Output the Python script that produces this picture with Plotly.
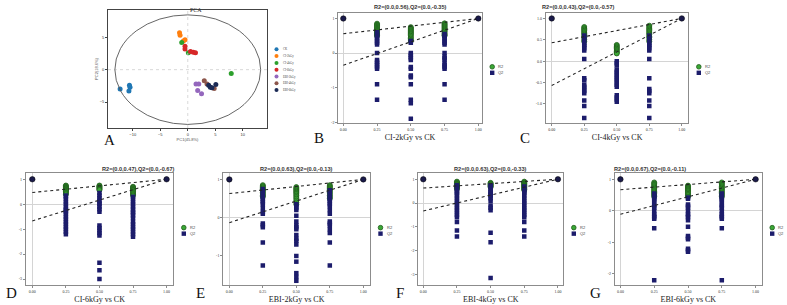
import plotly.graph_objects as go

W, H = 787, 305

# ---------------- PCA data ----------------
groups = ["CK", "CI-2kGy", "CI-4kGy", "CI-6kGy", "EBI-2kGy", "EBI-4kGy", "EBI-6kGy"]
group_colors = ["#1f77b4", "#ff7f0e", "#2ca02c", "#d62728", "#9467bd", "#8c564b", "#1b2a55"]
pc1 = [
    [-12.3, -10.6, -10.5, -10.7],
    [-1.5, -1.4, -0.5, -0.8],
    [-1.1, 0.1, 7.9],
    [-0.5, -0.5, 0.5, 1.0, 1.4],
    [1.5, 2.0, 1.8, 2.5],
    [3.0, 3.5, 4.8],
    [3.8, 4.1, 4.4, 5.1],
]
pc2 = [
    [-3.0, -2.4, -2.7, -3.3],
    [5.7, 5.3, 4.6, 4.4],
    [4.2, 2.6, -0.6],
    [3.6, 3.2, 2.8, 2.7, 2.6],
    [-2.2, -2.2, -3.2, -3.7],
    [-1.7, -2.2, -2.9],
    [-2.4, -2.7, -2.8, -2.3],
]
ellipse_a, ellipse_b = 13.25, 8.45

# ---------------- permutation-test data ----------------
perm_x = [0.25, 0.5, 0.75]
panels = ["B", "C", "D", "E", "F", "G"]
titles = ["R2=(0.0,0.56),Q2=(0.0,-0.35)", "R2=(0.0,0.43),Q2=(0.0,-0.57)",
          "R2=(0.0,0.47),Q2=(0.0,-0.67)", "R2=(0.0,0.63),Q2=(0.0,-0.13)",
          "R2=(0.0,0.63),Q2=(0.0,-0.33)", "R2=(0.0,0.67),Q2=(0.0,-0.11)"]
xtitles = ["CI-2kGy vs CK", "CI-4kGy vs CK", "CI-6kGy vs CK",
           "EBI-2kGy vs CK", "EBI-4kGy vs CK", "EBI-6kGy vs CK"]
r2_intercepts = [0.56, 0.43, 0.47, 0.63, 0.63, 0.67]
q2_intercepts = [-0.35, -0.57, -0.67, -0.13, -0.33, -0.11]
end_x = [0.0, 1.0]
end_y = [1.0, 1.0]

B_r2 = [[0.85, 0.82, 0.79, 0.76, 0.73, 0.70, 0.67, 0.64, 0.61, 0.58, 0.55, 0.52, 0.50],
        [0.75, 0.72, 0.69, 0.66, 0.63, 0.60, 0.57, 0.54, 0.50, 0.46, 0.42, 0.38, 0.35],
        [0.86, 0.83, 0.80, 0.77, 0.74, 0.71, 0.68, 0.65, 0.62, 0.58, 0.55, 0.52, 0.50]]
B_q2 = [[0.60, 0.55, 0.50, 0.45, 0.40, 0.35, 0.30, 0.25, 0.0, -0.2, -0.25, -0.3, -0.35, -0.4, -0.45, -0.9, -1.35],
        [0.35, 0.30, 0.0, -0.05, -0.1, -0.15, -0.2, -0.4, -0.45, -0.65, -0.7, -0.9, -1.35, -1.45, -1.9],
        [0.55, 0.50, 0.45, 0.40, 0.35, 0.30, 0.25, 0.0, -0.1, -0.15, -0.2, -0.3, -0.35, -0.4, -0.45, -0.9, -1.35]]
C_r2 = [[0.80, 0.77, 0.74, 0.71, 0.68, 0.65, 0.62, 0.58, 0.55, 0.50, 0.46],
        [0.38, 0.35, 0.32, 0.29, 0.26, 0.23, 0.20, 0.18],
        [0.83, 0.80, 0.77, 0.74, 0.71, 0.68, 0.65, 0.62, 0.58, 0.55, 0.50, 0.46]]
C_q2 = [[0.60, 0.55, 0.50, 0.42, 0.38, 0.35, 0.30, 0.25, 0.05, -0.4, -0.45, -0.55, -0.6, -0.65, -0.7, -0.75, -0.92, -1.05, -1.33],
        [0.0, -0.05, -0.1, -0.2, -0.25, -0.3, -0.35, -0.4, -0.45, -0.5, -0.55, -0.6, -0.8, -0.85, -0.9, -0.95],
        [0.60, 0.55, 0.50, 0.42, 0.38, 0.35, 0.30, 0.25, 0.05, -0.4, -0.65, -0.7, -0.75, -0.92, -1.05, -1.33]]
D_r2 = [[0.75, 0.72, 0.69, 0.66, 0.63, 0.60, 0.57, 0.54, 0.50, 0.45, 0.40],
        [0.75, 0.72, 0.69, 0.66, 0.63, 0.60, 0.57],
        [0.70, 0.67, 0.64, 0.61, 0.58, 0.55, 0.50, 0.45, 0.40, 0.35]]
D_q2 = [[0.35, 0.30, 0.20, 0.10, 0.0, -0.1, -0.2, -0.25, -0.3, -0.4, -0.5, -0.6, -0.7, -0.8, -0.9, -1.0, -1.1, -1.2],
        [0.45, 0.35, 0.25, 0.15, 0.05, 0.0, -0.1, -0.2, -0.3, -0.85, -0.95, -1.05, -1.15, -1.25, -2.35, -2.65, -3.0],
        [0.30, 0.20, 0.10, 0.0, -0.1, -0.2, -0.3, -0.35, -0.45, -0.55, -0.7, -0.8, -0.9, -1.0, -1.1, -1.2, -1.3]]
E_r2 = [[0.85, 0.82, 0.79, 0.76, 0.73, 0.70, 0.66, 0.62, 0.58, 0.55],
        [0.80, 0.77, 0.74, 0.71, 0.68, 0.65, 0.62, 0.58, 0.54, 0.50, 0.45, 0.40, 0.35],
        [0.85, 0.82, 0.79, 0.76, 0.73, 0.70, 0.66, 0.62, 0.58, 0.54, 0.50]]
E_q2 = [[0.75, 0.70, 0.65, 0.60, 0.55, 0.50, 0.45, 0.40, 0.35, 0.25, 0.15, 0.10, -0.15, -0.2, -0.25, -0.65, -1.25],
        [0.35, 0.30, 0.25, 0.20, 0.05, -0.1, -0.2, -0.25, -0.3, -0.45, -0.55, -0.6, -0.7, -1.0, -1.15, -1.45, -1.55, -1.65],
        [0.72, 0.68, 0.62, 0.55, 0.50, 0.45, 0.40, 0.35, 0.30, 0.20, 0.10, -0.1, -0.15, -0.2, -0.3, -0.4, -0.65, -1.25]]
F_r2 = [[0.90, 0.87, 0.84, 0.81, 0.78, 0.75, 0.72, 0.69, 0.66, 0.63, 0.60],
        [0.85, 0.82, 0.79, 0.76, 0.73, 0.70, 0.67],
        [0.90, 0.87, 0.84, 0.81, 0.78, 0.75, 0.72, 0.69, 0.66, 0.62, 0.58, 0.55]]
F_q2 = [[0.75, 0.70, 0.60, 0.50, 0.45, 0.40, 0.30, 0.20, 0.10, 0.0, -0.1, -0.2, -0.3, -0.4, -0.5, -0.6, -0.8, -1.15, -1.4],
        [0.75, 0.70, 0.60, 0.50, 0.45, 0.40, 0.35, 0.30, 0.20, 0.10, -0.1, -0.2, -0.3, -1.25, -1.65, -3.15],
        [0.70, 0.60, 0.50, 0.45, 0.40, 0.30, 0.20, 0.10, 0.0, -0.1, -0.2, -0.3, -0.4, -0.5, -0.6, -0.8, -1.15, -1.4]]
G_r2 = [[0.90, 0.86, 0.82, 0.78, 0.74, 0.70, 0.66, 0.62, 0.58, 0.54, 0.50, 0.45],
        [0.80, 0.77, 0.74, 0.71, 0.68, 0.65, 0.62, 0.58, 0.54, 0.50, 0.45],
        [0.90, 0.86, 0.82, 0.78, 0.74, 0.70, 0.66, 0.62, 0.58, 0.54, 0.50, 0.45]]
G_q2 = [[0.55, 0.50, 0.45, 0.40, 0.35, 0.30, 0.20, 0.15, 0.10, 0.0, -0.1, -0.15, -0.2, -0.25, -0.55, -2.2],
        [0.42, 0.38, 0.20, 0.15, 0.10, 0.0, -0.1, -0.15, -0.2, -0.3, -0.5, -0.8, -0.85, -0.9, -1.2, -1.25, -1.3],
        [0.55, 0.50, 0.45, 0.40, 0.35, 0.30, 0.20, 0.15, 0.10, 0.0, -0.1, -0.15, -0.2, -0.25, -0.55, -2.2]]
all_r2 = [B_r2, C_r2, D_r2, E_r2, F_r2, G_r2]
all_q2 = [B_q2, C_q2, D_q2, E_q2, F_q2, G_q2]

y_ticks = [[1, 0, -1, -2], [1.0, 0.5, 0.0, -0.5, -1.0], [1, 0, -1, -2, -3],
           [1, 0, -1], [1, 0, -1, -2, -3], [1, 0, -1, -2]]
y_ticktext = [["1", "0", "-1", "-2"], ["1.0", "0.5", "0.0", "-0.5", "-1.0"],
              ["1", "0", "-1", "-2", "-3"], ["1", "0", "-1"],
              ["1", "0", "-1", "-2", "-3"], ["1", "0", "-1", "-2"]]
x_ticks = [0, 0.25, 0.5, 0.75, 1.0]
x_ticktext = ["0.00", "0.25", "0.50", "0.75", "1.00"]

# ---------------- layout geometry (pixels) ----------------
boxes = {
    "A": (108, 267, 10, 128),
    "B": (338.3, 481.7, 13.3, 123.3),
    "C": (546, 688.3, 13.3, 123.3),
    "D": (26, 173.3, 173.3, 285),
    "E": (223.3, 370, 173.3, 285),
    "F": (418.3, 563.3, 173.3, 285),
    "G": (615, 761.7, 173.3, 285),
}
x_ranges = {"B": (-0.037, 1.025), "C": (-0.044, 1.05), "D": (-0.047, 1.05),
            "E": (-0.045, 1.05), "F": (-0.037, 1.04), "G": (-0.04, 1.045)}
y_ranges = {"B": (-2.03, 1.15), "C": (-1.455, 1.12), "D": (-3.24, 1.24),
            "E": (-1.76, 1.16), "F": (-3.44, 1.25), "G": (-2.35, 1.19)}
letters = {"A": (102, 140), "B": (312, 138), "C": (518, 138), "D": (4, 293),
           "E": (194, 293), "F": (394, 293), "G": (588, 293)}


def px_dom_x(l, r):
    return [l / W, r / W]


def px_dom_y(t, b):
    return [1 - b / H, 1 - t / H]


fig = go.Figure()
layout = dict(width=W, height=H, margin=dict(l=0, r=0, t=0, b=0, autoexpand=False),
              paper_bgcolor="white", plot_bgcolor="white", showlegend=False)
annotations, shapes = [], []

# ---------------- PCA panel ----------------
l, r, t, b = boxes["A"]
layout["xaxis"] = dict(domain=px_dom_x(l, r), range=[-14.5, 14.4], anchor="y", automargin=False,
                       tickvals=[-10, -5, 0, 5, 10], tickfont=dict(size=4, family="Liberation Sans", color="#333"),
                       showline=True, mirror=True, linecolor="#444", linewidth=1, ticks="outside", ticklen=2,
                       tickcolor="#444", showgrid=False, zeroline=False,
                       title=dict(text="PC1(45.8%)", font=dict(size=4, family="Liberation Sans", color="#555"), standoff=1))
layout["yaxis"] = dict(domain=px_dom_y(t, b), range=[-9.0, 9.2], anchor="x", automargin=False,
                       tickvals=[-5, 0, 5], tickfont=dict(size=4, family="Liberation Sans", color="#333"),
                       showline=True, mirror=True, linecolor="#444", linewidth=1, ticks="outside", ticklen=2,
                       tickcolor="#444", showgrid=False, zeroline=False,
                       title=dict(text="PC2(18.6%)", font=dict(size=4, family="Liberation Sans", color="#555"), standoff=1))
shapes.append(dict(type="line", xref="x", yref="y", x0=0, x1=0, y0=-9.0, y1=9.2,
                   line=dict(color="#cfcfcf", width=0.8, dash="dot")))
shapes.append(dict(type="line", xref="x", yref="y", x0=-14.5, x1=14.4, y0=0, y1=0,
                   line=dict(color="#cfcfcf", width=0.8, dash="dot")))
shapes.append(dict(type="circle", xref="x", yref="y", x0=-ellipse_a, x1=ellipse_a,
                   y0=-ellipse_b, y1=ellipse_b, line=dict(color="#555", width=0.9)))
for g, c, xs, ys in zip(groups, group_colors, pc1, pc2):
    fig.add_trace(go.Scatter(x=xs, y=ys, mode="markers", name=g, xaxis="x", yaxis="y",
                             marker=dict(color=c, size=5, line=dict(width=0))))
annotations.append(dict(text="PCA", x=(l + r) / 2 / W, y=1 - 5 / H, xref="paper", yref="paper",
                        showarrow=False, font=dict(size=6, family="Liberation Serif", color="#333")))
for i, (g, c) in enumerate(zip(groups, group_colors)):
    yy = 1 - (49.3 + i * 6.8) / H
    shapes.append(dict(type="circle", xref="paper", yref="paper", xsizemode="pixel", ysizemode="pixel",
                       xanchor=276.5 / W, yanchor=yy, x0=-2, x1=2, y0=-2, y1=2,
                       fillcolor=c, line=dict(width=0)))
    annotations.append(dict(text=g, x=281 / W, y=yy, xref="paper", yref="paper", xanchor="left",
                            yanchor="middle", showarrow=False,
                            font=dict(size=3, family="Liberation Serif", color="#444")))

# ---------------- permutation panels ----------------
green_fill, green_edge = "#3aa835", "#1f5a1a"
navy = "#1c1c6b"
for k, p in enumerate(panels):
    idx = k + 2
    xa, ya = f"x{idx}", f"y{idx}"
    l, r, t, b = boxes[p]
    layout[f"xaxis{idx}"] = dict(domain=px_dom_x(l, r), range=list(x_ranges[p]), anchor=ya, automargin=False,
                                 tickvals=x_ticks, ticktext=x_ticktext,
                                 tickfont=dict(size=4, family="Liberation Serif", color="#333"),
                                 showline=True, mirror=True, linecolor="#8c8c8c", linewidth=1.2,
                                 ticks="outside", ticklen=2, tickcolor="#8c8c8c", showgrid=False,
                                 zeroline=True, zerolinecolor="#d4d4d4", zerolinewidth=0.8,
                                 title=dict(text=xtitles[k], standoff=3,
                                            font=dict(size=8, family="Liberation Serif", color="#222")))
    layout[f"yaxis{idx}"] = dict(domain=px_dom_y(t, b), range=list(y_ranges[p]), anchor=xa, automargin=False,
                                 tickvals=y_ticks[k], ticktext=y_ticktext[k],
                                 tickfont=dict(size=4, family="Liberation Serif", color="#333"),
                                 showline=True, mirror=True, linecolor="#8c8c8c", linewidth=1.2,
                                 ticks="outside", ticklen=2, tickcolor="#8c8c8c", showgrid=False,
                                 zeroline=True, zerolinecolor="#d4d4d4", zerolinewidth=0.8)
    rx, ry, qx, qy = [], [], [], []
    for xv, rv, qv in zip(perm_x, all_r2[k], all_q2[k]):
        rx += [xv] * len(rv)
        ry += rv
        qx += [xv] * len(qv)
        qy += qv
    fig.add_trace(go.Scatter(x=rx, y=ry, mode="markers", xaxis=xa, yaxis=ya, name="R2",
                             marker=dict(symbol="circle", size=5, color=green_fill,
                                         line=dict(color=green_edge, width=0.8))))
    fig.add_trace(go.Scatter(x=qx, y=qy, mode="markers", xaxis=xa, yaxis=ya, name="Q2",
                             marker=dict(symbol="square", size=4.5, color=navy, line=dict(width=0))))
    fig.add_trace(go.Scatter(x=[0, 1], y=[r2_intercepts[k], 1], mode="lines", xaxis=xa, yaxis=ya,
                             line=dict(color="#222", width=1.1, dash="dot")))
    fig.add_trace(go.Scatter(x=[0, 1], y=[q2_intercepts[k], 1], mode="lines", xaxis=xa, yaxis=ya,
                             line=dict(color="#222", width=1.1, dash="dot")))
    fig.add_trace(go.Scatter(x=end_x, y=end_y, mode="markers", xaxis=xa, yaxis=ya,
                             marker=dict(symbol="circle", size=5.5, color="#1a1a4a",
                                         line=dict(color="#000", width=0.5))))
    ty = t - 6 if t < 100 else t - 4.5
    annotations.append(dict(text="<b>" + titles[k] + "</b>", x=(l + r) / 2 / W, y=1 - ty / H,
                            xref="paper", yref="paper", showarrow=False, yanchor="middle",
                            font=dict(size=5.6, family="Liberation Sans", color="#333")))
    lx = r + 10.5
    cy = (t + b) / 2
    y1 = 1 - (cy - 1.5) / H
    y2 = 1 - (cy + 4.5) / H
    shapes.append(dict(type="circle", xref="paper", yref="paper", xsizemode="pixel", ysizemode="pixel",
                       xanchor=lx / W, yanchor=y1, x0=-2.3, x1=2.3, y0=-2.3, y1=2.3,
                       fillcolor=green_fill, line=dict(color=green_edge, width=0.8)))
    shapes.append(dict(type="rect", xref="paper", yref="paper", xsizemode="pixel", ysizemode="pixel",
                       xanchor=lx / W, yanchor=y2, x0=-2.2, x1=2.2, y0=-2.2, y1=2.2,
                       fillcolor=navy, line=dict(width=0)))
    for txt, yy in (("R2", y1), ("Q2", y2)):
        annotations.append(dict(text=txt, x=(lx + 4) / W, y=yy, xref="paper", yref="paper",
                                xanchor="left", yanchor="middle", showarrow=False,
                                font=dict(size=4, family="Liberation Sans", color="#444")))

for p, (lx, ly) in letters.items():
    annotations.append(dict(text=p, x=lx / W, y=1 - ly / H, xref="paper", yref="paper",
                            xanchor="left", yanchor="middle", showarrow=False,
                            font=dict(size=15, family="Liberation Serif", color="#111")))

layout["annotations"] = annotations
layout["shapes"] = shapes
fig.update_layout(**layout)
fig.write_html("out.html", config={"displayModeBar": False},
               post_script="document.body.style.margin='0';document.body.style.overflow='hidden';")
